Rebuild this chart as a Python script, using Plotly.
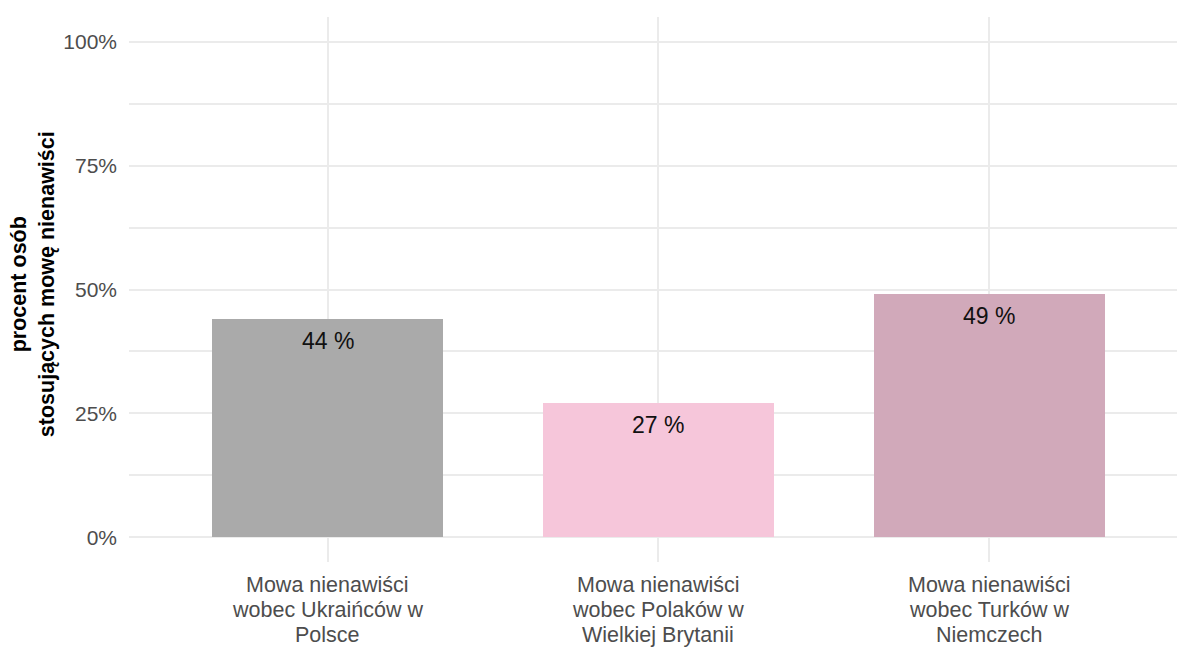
import plotly.graph_objects as go

# Share of people using hate speech, by target group
categories = [
    "Mowa nienawiści\nwobec Ukraińców w\nPolsce",
    "Mowa nienawiści\nwobec Polaków w\nWielkiej Brytanii",
    "Mowa nienawiści\nwobec Turków w\nNiemczech",
]
values = [44, 27, 49]
bar_colors = ["#aaaaaa", "#f6c6da", "#d1a9ba"]
y_ticks = [0, 25, 50, 75, 100]
y_tick_labels = ["0%", "25%", "50%", "75%", "100%"]
y_title = "procent osób<br>stosujących mowę nienawiści"

FONT = "Liberation Sans, Arial, sans-serif"
LABEL_GREY = "#4d4d4d"

fig = go.Figure()
fig.add_trace(go.Bar(
    x=categories,
    y=values,
    width=0.7,
    marker=dict(color=bar_colors, line=dict(width=0)),
    hoverinfo="skip",
))

# value labels just below each bar top
for cat, v in zip(categories, values):
    fig.add_annotation(
        x=cat, y=v, text=f"{v} %", showarrow=False,
        yanchor="middle", yshift=-22,
        font=dict(family=FONT, size=23, color="#111111"),
    )

# category labels, one line per annotation for tighter line spacing
for cat in categories:
    for i, line in enumerate(cat.split("\n")):
        fig.add_annotation(
            x=cat, xref="x", y=0, yref="paper", text=line, showarrow=False,
            yanchor="middle", yshift=-23 - 25 * i,
            font=dict(family=FONT, size=21.5, color=LABEL_GREY),
        )

# rotated axis title
fig.add_annotation(
    xref="paper", yref="paper", x=-0.092, y=0.509,
    text=f"<b>{y_title}</b>", textangle=-90, showarrow=False,
    xanchor="center", yanchor="middle",
    font=dict(family=FONT, size=21.5, color="#000000"),
)

fig.update_layout(
    width=1177, height=649,
    margin=dict(l=129, r=0, t=17, b=87),
    paper_bgcolor="white", plot_bgcolor="white",
    showlegend=False,
    font=dict(family=FONT),
    bargap=0,
)
fig.update_xaxes(
    type="category",
    range=[-0.6, 2.567],
    showgrid=True, gridcolor="#ebebeb", gridwidth=1.5,
    showline=False, zeroline=False, ticks="",
    showticklabels=False,
)
fig.update_yaxes(
    range=[-5, 105],
    tickvals=y_ticks, ticktext=y_tick_labels,
    showgrid=True, gridcolor="#ebebeb", gridwidth=1.5,
    minor=dict(tickvals=[12.5, 37.5, 62.5, 87.5], showgrid=True,
               gridcolor="#ebebeb", gridwidth=1.5),
    showline=False, zeroline=False, ticks="",
    tickfont=dict(family=FONT, size=21, color=LABEL_GREY),
    ticklabelstandoff=11,
)

fig.write_html("out.html")
